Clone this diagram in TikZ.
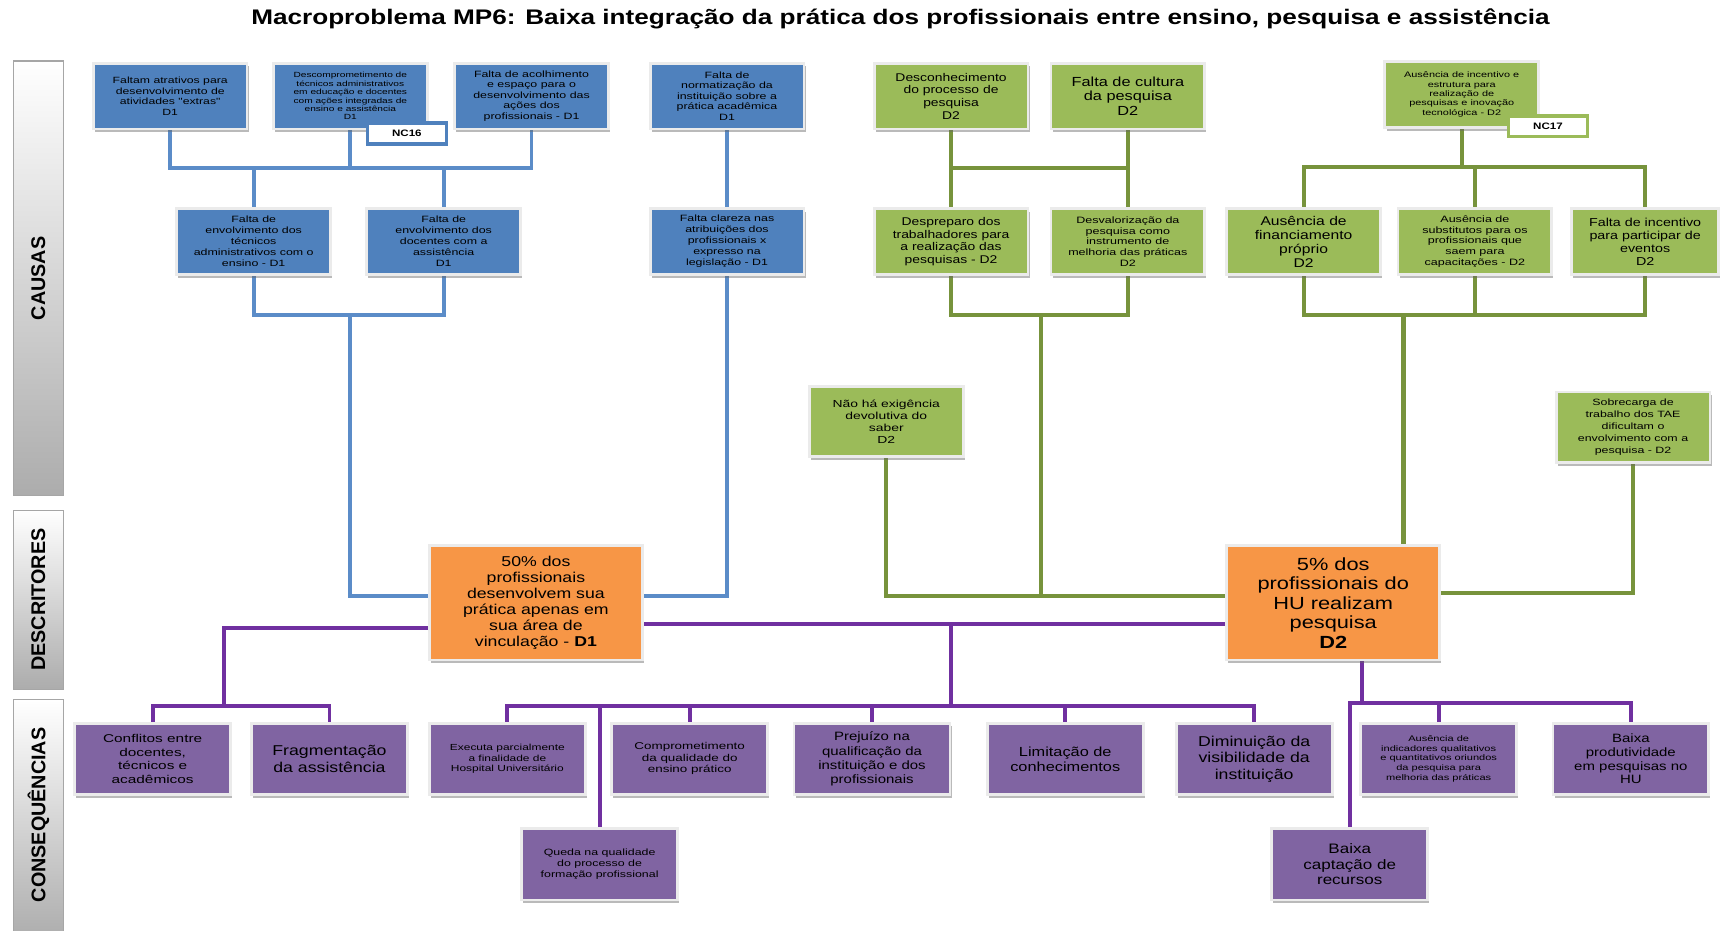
\documentclass[tikz,border=0pt]{standalone}
\usepackage{fontspec}
\setmainfont{Liberation Sans}[FakeStretch=1.24]
\newfontfamily\widerfont{Liberation Sans}[FakeStretch=1.36]
\newfontfamily\plainfont{Liberation Sans}
\usetikzlibrary{shadows,backgrounds}
\definecolor{cblue}{HTML}{4F81BD}
\definecolor{lblue}{HTML}{5B8CC8}
\definecolor{cgreen}{HTML}{9BBB59}
\definecolor{lgreen}{HTML}{77933C}
\definecolor{corange}{HTML}{F79646}
\definecolor{cpurple}{HTML}{8064A2}
\definecolor{lpurple}{HTML}{7030A0}
\newcommand\myfs[2]{\fontsize{#1}{#2}\selectfont}
\begin{document}
\begin{tikzpicture}[x=1pt,y=-1pt,
  box/.style={draw=white!92!black, line width=2.5pt, minimum height=60pt, minimum width=140pt,
    inner sep=2pt, align=center, text=black,
    drop shadow={shadow xshift=1.5pt, shadow yshift=-3pt, opacity=0.45, fill=black!60}},
  bbox/.style={box, fill=cblue},
  gbox/.style={box, fill=cgreen},
  obox/.style={box, fill=corange, minimum width=194pt, minimum height=104pt},
  pbox/.style={box, fill=cpurple, minimum height=65pt, minimum width=142pt},
  ncbox/.style={fill=white, line width=3pt, minimum width=72pt, minimum height=19pt, inner sep=1pt, font=\bfseries\myfs{8.5}{10}},
  sidebar/.style={draw=gray!70, line width=1pt, top color=white, bottom color=gray!65, minimum width=45pt},
  sidelabel/.style={rotate=90, font=\plainfont\bfseries\myfs{18}{20}},
  bl/.style={draw=lblue, line width=3.5pt},
  gl/.style={draw=lgreen, line width=3.8pt},
  pl/.style={draw=lpurple, line width=3.5pt}
]
\useasboundingbox (0,0) rectangle (1568,847);

% title
\node[font=\bfseries\myfs{19.2}{21}] (title) at (820,17) {Macroproblema MP6: Baixa integração da prática dos profissionais entre ensino, pesquisa e assistência};

% side bars
\node[sidebar, minimum height=396pt] (causas) at (35,253.5) {};
\node[sidelabel] (causasL) at (causas.center) {CAUSAS};
\node[sidebar, minimum height=163pt] (descr) at (35,546) {};
\node[sidelabel] (descrL) at (descr.center) {DESCRITORES};
\node[sidebar, minimum height=220pt] (conseq) at (35,747) {};
\node[sidelabel] (conseqL) at (35,742) {CONSEQUÊNCIAS};

% blue causes
\node[bbox, font=\widerfont\myfs{8.2}{9.5}] (B1) at (155,87.5) {Faltam atrativos para\\desenvolvimento de\\atividades "extras"\\D1};
\node[bbox, font=\widerfont\myfs{6.8}{7.7}] (B2) at (319,87.5) {Descomprometimento de\\técnicos administrativos\\em educação e docentes\\com ações integradas de\\ensino e assistência\\D1};
\node[bbox, font=\widerfont\myfs{8.3}{9.6}] (B3) at (484,87.5) {Falta de acolhimento\\e espaço para o\\desenvolvimento das\\ações dos\\profissionais - D1};
\node[bbox, font=\widerfont\myfs{8.3}{9.6}] (B4) at (662,87.5) {Falta de\\normatização da\\instituição sobre a\\prática acadêmica\\D1};
\node[ncbox, draw=cblue] (NC16) at (370.5,121.5) {NC16};
\node[bbox, font=\widerfont\myfs{8.3}{10}] (B5) at (231,220) {Falta de\\envolvimento dos\\técnicos\\administrativos com o\\ensino - D1};
\node[bbox, font=\widerfont\myfs{8.3}{10}] (B6) at (404,220) {Falta de\\envolvimento dos\\docentes com a\\assistência\\D1};
\node[bbox, font=\widerfont\myfs{8.3}{10}] (B7) at (662,220) {Falta clareza nas\\atribuições dos\\profissionais x\\expresso na\\legislação - D1};

% green causes
\node[gbox, font=\myfs{10.2}{11.5}] (G1) at (866,87.5) {Desconhecimento\\do processo de\\pesquisa\\D2};
\node[gbox, font=\myfs{12}{13.5}] (G2) at (1027,87.5) {Falta de cultura\\da pesquisa\\D2};
\node[gbox, font=\widerfont\myfs{7.3}{8.6}] (G3) at (1331,86) {Ausência de incentivo e\\estrutura para\\realização de\\pesquisas e inovação\\tecnológica - D2};
\node[ncbox, draw=cgreen] (NC17) at (1409.5,115) {NC17};
\node[gbox, font=\myfs{10.2}{11.5}] (G4) at (866,220) {Despreparo dos\\trabalhadores para\\a realização das\\pesquisas - D2};
\node[gbox, font=\widerfont\myfs{8.4}{9.6}] (G5) at (1027,220) {Desvalorização da\\pesquisa como\\instrumento de\\melhoria das práticas\\D2};
\node[gbox, font=\myfs{11.5}{12.8}] (G6) at (1187,220) {Ausência de\\financiamento\\próprio\\D2};
\node[gbox, font=\widerfont\myfs{8.4}{9.8}] (G7) at (1343,220) {Ausência de\\substitutos para os\\profissionais que\\saem para\\capacitações - D2};
\node[gbox, font=\myfs{10.5}{11.8}, minimum width=134pt] (G8) at (1498,220) {Falta de incentivo\\para participar de\\eventos\\D2};
\node[gbox, font=\widerfont\myfs{9.3}{10.8}, minimum height=64pt] (G9) at (807,384) {Não há exigência\\devolutiva do\\saber\\D2};
\node[gbox, font=\widerfont\myfs{8.3}{10.8}, minimum height=64pt] (G10) at (1487,389) {Sobrecarga de\\trabalho dos TAE\\dificultam o\\envolvimento com a\\pesquisa - D2};

% descriptors
\node[obox, font=\myfs{13}{14.5}] (D1) at (488,549) {50\% dos\\profissionais\\desenvolvem sua\\prática apenas em\\sua área de\\vinculação - \textbf{D1}};
\node[obox, font=\myfs{16}{17.8}] (D2) at (1214,549) {5\% dos\\profissionais do\\HU realizam\\pesquisa\\\textbf{D2}};

% consequences
\node[pbox, font=\widerfont\myfs{10.3}{12.3}] (P1) at (139,691) {Conflitos entre\\docentes,\\técnicos e\\acadêmicos};
\node[pbox, font=\myfs{13}{15}] (P2) at (300,691) {Fragmentação\\da assistência};
\node[pbox, font=\widerfont\myfs{8}{9.8}] (P3) at (462,691) {Executa parcialmente\\a finalidade de\\Hospital Universitário};
\node[pbox, font=\widerfont\myfs{9}{10.5}] (P4) at (628,691) {Comprometimento\\da qualidade do\\ensino prático};
\node[pbox, font=\myfs{11}{12.8}] (P5) at (794,691) {Prejuízo na\\qualificação da\\instituição e dos\\profissionais};
\node[pbox, font=\myfs{12}{13.5}] (P6) at (970,691) {Limitação de\\conhecimentos};
\node[pbox, font=\myfs{13}{15}] (P7) at (1142,691) {Diminuição da\\visibilidade da\\instituição};
\node[pbox, font=\widerfont\myfs{7.4}{8.8}] (P8) at (1310,691) {Ausência de\\indicadores qualitativos\\e quantitativos oriundos\\da pesquisa para\\melhoria das práticas};
\node[pbox, font=\myfs{11}{12.5}] (P9) at (1485,691) {Baixa\\produtividade\\em pesquisas no\\HU};
\node[pbox, font=\widerfont\myfs{8.3}{10}] (P10) at (546,787) {Queda na qualidade\\do processo de\\formação profissional};
\node[pbox, font=\myfs{12.5}{14}] (P11) at (1229,787) {Baixa\\captação de\\recursos};

% junction coordinates
\coordinate (bj1) at (319,153);
\coordinate (bj2) at (319,287);
\coordinate (gj1) at (946,153);
\coordinate (gj2) at (948,287);
\coordinate (gj3) at (948,543);
\coordinate (gj4) at (1333,152);
\coordinate (gj5) at (1278,287);
\coordinate (pj1) at (204,643);
\coordinate (pj2top) at (866,568);
\coordinate (pj2) at (866,643);
\coordinate (pj3) at (1240,640);

\begin{scope}[on background layer]
\fill[white] (0,0) rectangle (1568,847);
% blue
\draw[bl] (B1.south) |- (B3.south |- bj1) -- (B3.south);
\draw[bl] (B2.south) -- (B2.south |- bj1);
\draw[bl] (B5.north) -- (B5.north |- bj1);
\draw[bl] (B6.north) -- (B6.north |- bj1);
\draw[bl] (B5.south) |- (B6.south |- bj2) -- (B6.south);
\draw[bl] (bj2) |- ([yshift=6pt]D1.west);
\draw[bl] (B4.south) -- (B7.north);
\draw[bl] (B7.south) |- ([yshift=6pt]D1.east);
% green
\draw[gl] (G1.south) -- (G4.north);
\draw[gl] (G2.south) -- (G5.north);
\draw[gl] (G1.south |- gj1) -- (G2.south |- gj1);
\draw[gl] (G4.south) |- (G5.south |- gj2) -- (G5.south);
\draw[gl] (gj2) -- (gj3);
\draw[gl] (G9.south) |- ([yshift=6pt]D2.west);
\draw[gl] (G3.south) -- (G3.south |- gj4);
\draw[gl] (G6.north) |- (G8.north |- gj4) -- (G8.north);
\draw[gl] (G7.north) -- (G7.north |- gj4);
\draw[gl] (G6.south) |- (G8.south |- gj5) -- (G8.south);
\draw[gl] (G7.south) -- (G7.south |- gj5);
\draw[gl] (gj5) -- (D2.north -| gj5);
\draw[gl] (G10.south) |- ([yshift=9pt]D2.east);
% purple
\draw[pl] ([yshift=-23pt]D1.west) -| (pj1);
\draw[pl] (P1.north) |- (P2.north |- pj1) -- (P2.north);
\draw[pl] ([yshift=-19pt]D1.east) -- ([yshift=-19pt]D2.west);
\draw[pl] (pj2top) -- (pj2);
\draw[pl] (P3.north) |- (P7.north |- pj2) -- (P7.north);
\draw[pl] (P4.north) -- (P4.north |- pj2);
\draw[pl] (P5.north) -- (P5.north |- pj2);
\draw[pl] (P6.north) -- (P6.north |- pj2);
\draw[pl] (P10.north) -- (P10.north |- pj2);
\draw[pl] (D2.south -| pj3) -- (pj3);
\draw[pl] (P11.north) |- (P9.north |- pj3) -- (P9.north);
\draw[pl] (P8.north) -- (P8.north |- pj3);
\end{scope}
\end{tikzpicture}
\end{document}
